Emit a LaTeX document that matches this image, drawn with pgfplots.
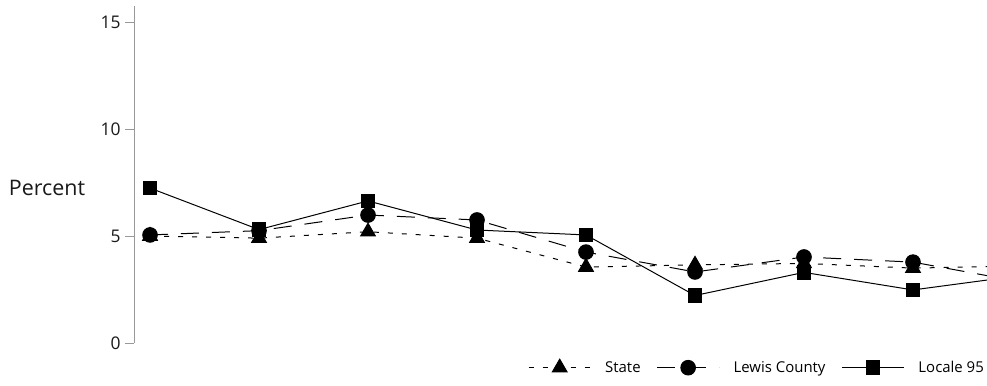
\documentclass[border=0pt]{standalone}
\usepackage{pgfplots}
\pgfplotsset{compat=1.18}
\usepackage{fontspec}
\setmainfont{Open Sans}
\begin{document}
\begin{tikzpicture}
\path[use as bounding box] (-134bp,-43bp) rectangle (853bp,343bp);
\begin{axis}[
  at={(0,0)}, anchor=south west,
  scale only axis, width=853bp, height=337bp,
  xmin=-0.147, xmax=7.679,
  ymin=0, ymax=15.75,
  axis y line*=left, axis x line=none,
  y axis line style={draw=black!40, line width=0.8pt},
  ytick={0,5,10,15},
  xtick=\empty,
  ytick style={draw=black!40, line width=0.8pt},
  tick align=outside,
  major tick length=9bp,
  /pgf/number format/assume math mode=true,
  yticklabel style={font=\fontsize{17.5}{20}\selectfont, text=black!90, xshift=-1bp},
  clip=true,
  legend columns=3,
  legend style={draw=none, fill=none, at={(1,0)}, anchor=north east,
    yshift=-14bp, xshift=2bp,
    font=\fontsize{15}{17}\selectfont,
    /tikz/every odd column/.append style={column sep=12bp},
    /tikz/every even column/.append style={column sep=14bp}},
  legend image code/.code={\draw[mark repeat=2,mark phase=2] plot coordinates {(0bp,0bp)(31bp,0bp)(62bp,0bp)};},
]
\addplot[black, line width=1pt, dash pattern=on 5bp off 9bp, mark=triangle*, mark size=8.5bp, mark options={solid}]
  coordinates {(0,5.0)(1,4.9)(2,5.2)(3,4.9)(4,3.55)(5,3.65)(6,3.72)(7,3.5)(8,3.6)};
\addlegendentry{State}
\addplot[black, line width=1pt, dash pattern=on 18bp off 13bp, mark=*, mark size=7.3bp, mark options={solid}]
  coordinates {(0,5.05)(1,5.25)(2,5.98)(3,5.75)(4,4.25)(5,3.32)(6,4.02)(7,3.78)(8,2.85)};
\addlegendentry{Lewis County}
\addplot[black, line width=1pt, mark=square*, mark size=6.8bp, mark options={solid}]
  coordinates {(0,7.24)(1,5.3)(2,6.64)(3,5.28)(4,5.05)(5,2.22)(6,3.3)(7,2.48)(8,3.16)};
\addlegendentry{Locale 95}
\end{axis}
\node[font=\fontsize{21.5}{24}\selectfont, text=black!90] at (-87bp,155bp) {Percent};
\end{tikzpicture}
\end{document}
